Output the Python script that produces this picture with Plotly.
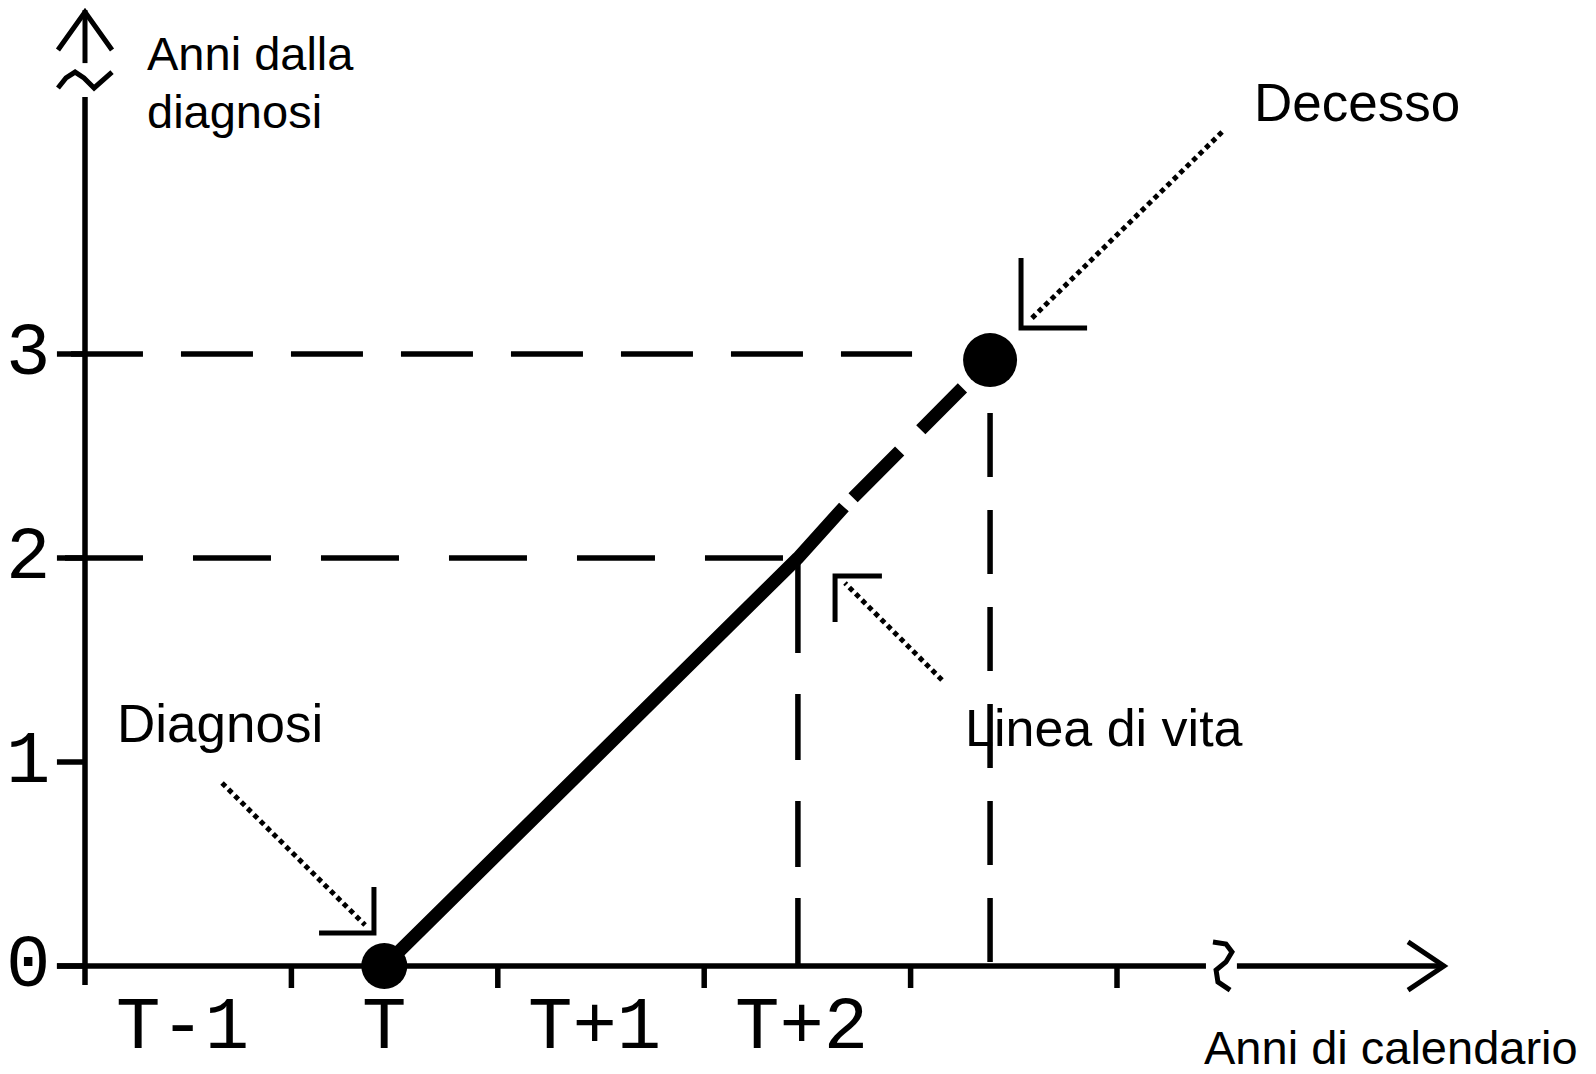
import plotly.graph_objects as go

# ---------------- data (years) ----------------
year_bounds = [-1, 0, 1, 2, 3, 4]              # calendar-year boundaries (tick marks)
x_label_pos = [-0.53, 0.45, 1.47, 2.47]         # tick-label positions
x_labels = ["T-1", "T", "T+1", "T+2"]
y_ticks = [0, 1, 2, 3]
y_labels = ["0", "1", "2", "3"]

diag_x, diag_y = 0.45, 0.0                      # diagnosi
cross_x, cross_y = 2.454, 2.0                   # 2 anni dalla diagnosi
solid_end_x, solid_end_y = 2.677, 2.25          # fine tratto continuo
death_x, death_y = 3.385, 2.97                  # decesso

# decorative geometry (data units)
y_axis_top = 4.26
y_tilde_x = [-1.131, -1.092, -1.048, -1.005, -0.956, -0.908, -0.869]
y_tilde_y = [4.304, 4.353, 4.382, 4.353, 4.304, 4.343, 4.382]
y_shaft = [4.426, 4.686]
y_chev_x = [-1.131, -1.0, -0.869]
y_chev_y = [4.490, 4.676, 4.490]

x_axis_start, x_axis_break = -1.136, 4.431
x_brk_x = [4.465, 4.528, 4.557, 4.528, 4.480, 4.489, 4.548]
x_brk_y = [0.118, 0.108, 0.069, 0.020, -0.020, -0.078, -0.118]
x_shaft = [4.581, 5.584]
x_chev_x = [5.410, 5.584, 5.410]
x_chev_y = [0.118, 0.0, -0.118]

ytick_len, xtick_len = 0.136, 0.108

arrows = {
    # tail, tip, corner, arm1, arm2
    "diag": [(-0.336, 0.897), (0.357, 0.201), (0.400, 0.162), (0.400, 0.387), (0.134, 0.162)],
    "life": [(3.152, 1.402), (2.682, 1.877), (2.634, 1.912), (2.861, 1.912), (2.634, 1.686)],
    "death": [(4.509, 4.088), (3.588, 3.176), (3.535, 3.127), (3.535, 3.471), (3.855, 3.127)],
}

texts = [
    ("Anni dalla", -0.709, 4.473, 47),
    ("diagnosi", -0.709, 4.191, 47),
    ("Decesso", 4.654, 4.235, 53),
    ("Diagnosi", -0.855, 1.189, 53),
    ("Linea di vita", 3.254, 1.167, 52),
    ("Anni di calendario", 4.412, -0.40, 47),
]

BLACK = "#000000"
fig = go.Figure()


def seg(xs, ys, width=5.5, dash="solid"):
    fig.add_trace(go.Scatter(x=xs, y=ys, mode="lines",
                             line=dict(color=BLACK, width=width, dash=dash),
                             hoverinfo="skip", showlegend=False))


# axes
seg([-1, -1], [-xtick_len * 0.86, y_axis_top])
seg(y_tilde_x, y_tilde_y, 5)
seg([-1, -1], y_shaft, 5)
seg(y_chev_x, y_chev_y, 5)
seg([x_axis_start, x_axis_break], [0, 0])
seg(x_brk_x, x_brk_y, 5)
seg(x_shaft, [0, 0])
seg(x_chev_x, x_chev_y, 5)

# ticks
tx, ty = [], []
for v in y_ticks:
    tx += [-1 - ytick_len, -1, None]
    ty += [v, v, None]
seg(tx, ty)
tx, ty = [], []
for b in year_bounds[1:]:
    tx += [b, b, None]
    ty += [0, -xtick_len, None]
seg(tx, ty)

# reference dashed lines
seg([-1.068, 3.007], [3, 3], 5.5, "72px,38px")
seg([-1.097, cross_x], [2, 2], 5.5, "78px,50px")
seg([cross_x, cross_x], [cross_y, 0], 5.5, "95px,41px,66px,41px,66px,31px,68px,10px")
seg([death_x, death_x], [2.711, 0], 5.5, "64px,33px")

# life line
seg([diag_x, cross_x, solid_end_x], [diag_y, cross_y, solid_end_y], 13)
seg([solid_end_x, death_x], [solid_end_y, death_y], 13, "0px,13px,66px,30px,59px,200px")

# points
fig.add_trace(go.Scatter(x=[diag_x, death_x], y=[diag_y, death_y], mode="markers",
                         opacity=1,
                         marker=dict(color=BLACK, size=[46, 54], opacity=1, line=dict(width=0)),
                         hoverinfo="skip", showlegend=False))

# arrows
for tail, tip, corner, a1, a2 in arrows.values():
    seg([tail[0], tip[0]], [tail[1], tip[1]], 5, "5px,4px")
    seg([a1[0], corner[0], a2[0]], [a1[1], corner[1], a2[1]], 5)

annotations = []
for t, x, y, s in texts:
    annotations.append(dict(x=x, y=y, text=t, showarrow=False, xanchor="left", yanchor="middle",
                            font=dict(family="Liberation Sans, Arial", size=s, color=BLACK)))
for t, x in zip(x_labels, x_label_pos):
    annotations.append(dict(x=x, y=-0.304, text=t, showarrow=False, xanchor="center", yanchor="middle",
                            font=dict(family="Liberation Mono", size=74, color=BLACK)))
for t, v in zip(y_labels, y_ticks):
    annotations.append(dict(x=-1.276, y=v, text=t, showarrow=False, xanchor="center", yanchor="middle",
                            font=dict(family="Liberation Mono", size=74, color=BLACK)))

fig.update_layout(
    width=1596, height=1074,
    margin=dict(l=0, r=0, t=0, b=0),
    paper_bgcolor="white", plot_bgcolor="white",
    xaxis=dict(range=[-1.4118, 6.3207], visible=False, fixedrange=True),
    yaxis=dict(range=[-0.5294, 4.7353], visible=False, fixedrange=True),
    annotations=annotations,
)

fig.write_html("out.html",
               config={"displayModeBar": False},
               post_script="document.body.style.margin='0';document.body.style.overflow='hidden';"
                           "document.documentElement.style.overflow='hidden';")
